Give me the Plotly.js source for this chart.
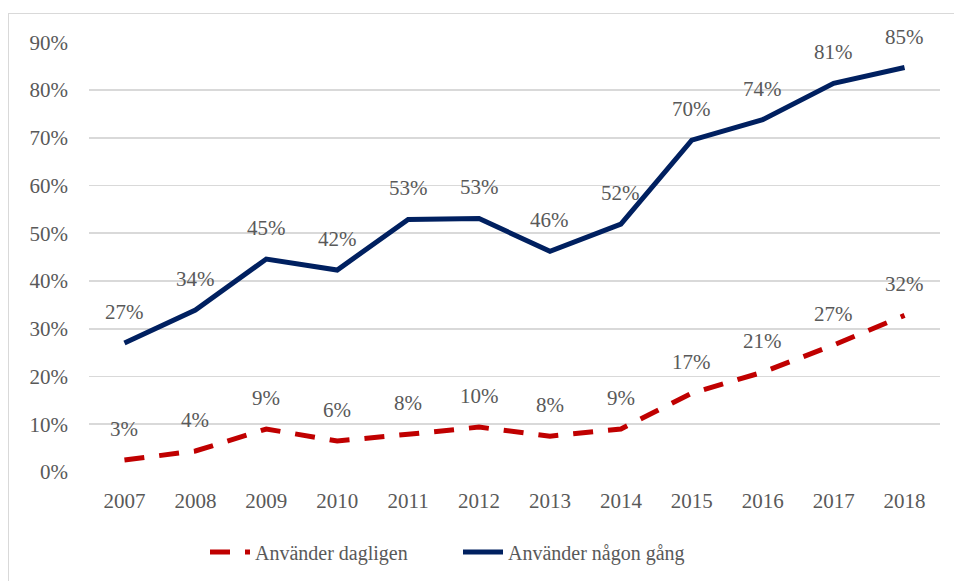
<!DOCTYPE html>
<html>
<head>
<meta charset="utf-8">
<script src="https://cdn.plot.ly/plotly-3.0.1.min.js"></script>
<style>
  html, body { margin: 0; padding: 0; background: #fff; }
  #frame { position: absolute; left: 8px; top: 13px; width: 946px; height: 568px;
           border-left: 1px solid #d9d9d9; border-top: 1px solid #d9d9d9; }
  #chart { position: absolute; left: 0; top: 0; width: 954px; height: 581px; }
</style>
</head>
<body>
<div id="frame"></div>
<div id="chart"></div>
<script>
const years = ['2007','2008','2009','2010','2011','2012','2013','2014','2015','2016','2017','2018'];
const daily = [0.025, 0.044, 0.090, 0.065, 0.079, 0.094, 0.075, 0.090, 0.165, 0.209, 0.266, 0.328];
const dailyLabels = ['3%','4%','9%','6%','8%','10%','8%','9%','17%','21%','27%','32%'];
const ever = [0.270, 0.339, 0.446, 0.423, 0.529, 0.531, 0.462, 0.519, 0.695, 0.738, 0.814, 0.847];
const everLabels = ['27%','34%','45%','42%','53%','53%','46%','52%','70%','74%','81%','85%'];
const yTicks = [0, 0.1, 0.2, 0.3, 0.4, 0.5, 0.6, 0.7, 0.8, 0.9];
const yTickText = ['0%','10%','20%','30%','40%','50%','60%','70%','80%','90%'];

const FONT = '"Liberation Serif", "DejaVu Serif", serif';
const GRAY = '#595959';

const traces = [
  { x: years, y: daily, type: 'scatter', mode: 'lines', name: 'Använder dagligen',
    line: { color: '#C00000', width: 5, dash: '20px,15px' }, hoverinfo: 'skip' },
  { x: years, y: ever, type: 'scatter', mode: 'lines', name: 'Använder någon gång',
    line: { color: '#002060', width: 5 }, hoverinfo: 'skip' }
];

const annotations = [];
function addLabels(vals, labels) {
  vals.forEach((v, i) => {
    // category axes place annotations by category index
    annotations.push({ x: i, y: v, xref: 'x', yref: 'y', text: labels[i], showarrow: false,
      xanchor: 'center', yanchor: 'middle', yshift: 31,
      font: { family: FONT, size: 21, color: GRAY } });
  });
}
addLabels(daily, dailyLabels);
addLabels(ever, everLabels);

const layout = {
  width: 954, height: 581,
  margin: { l: 89, r: 14, t: 42, b: 109 },
  paper_bgcolor: 'rgba(0,0,0,0)', plot_bgcolor: 'rgba(0,0,0,0)',
  font: { family: FONT, size: 21, color: GRAY },
  showlegend: true,
  legend: { orientation: 'h', xref: 'container', yref: 'container',
            x: 205/954, xanchor: 'left', y: 29/581, yanchor: 'middle',
            font: { family: FONT, size: 20, color: GRAY },
            entrywidth: 198, entrywidthmode: 'pixels', itemwidth: 40,
            traceorder: 'normal' },
  xaxis: { type: 'category', range: [-0.5, 11.5], showgrid: false, zeroline: false,
           showline: false, ticks: '', ticklabelstandoff: 14,
           tickfont: { family: FONT, size: 21, color: GRAY }, fixedrange: true },
  yaxis: { range: [0, 0.9005], tickvals: yTicks, ticktext: yTickText,
           showgrid: true, gridcolor: '#d9d9d9', gridwidth: 1.6, zeroline: false,
           showline: false, ticks: '', ticklabelstandoff: 20,
           tickfont: { family: FONT, size: 21, color: GRAY }, fixedrange: true },
  annotations: annotations
};

Plotly.newPlot('chart', traces, layout, { displayModeBar: false, staticPlot: true });
</script>
</body>
</html>
